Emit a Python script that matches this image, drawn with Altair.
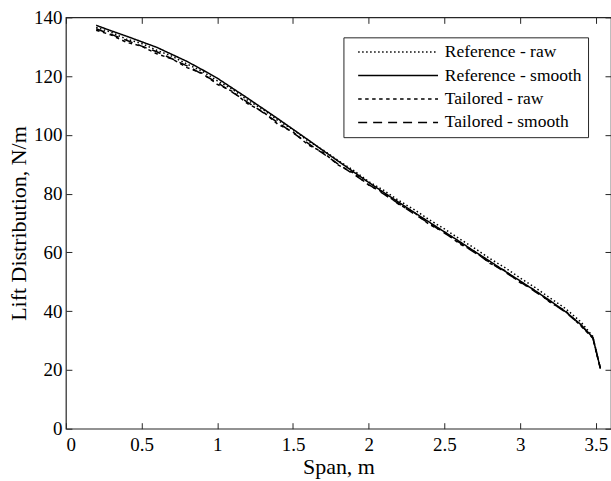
import altair as alt
import pandas as pd

span = [0.2, 0.3, 0.4, 0.5, 0.6, 0.7, 0.8, 0.9, 1.0, 1.1, 1.2, 1.3, 1.4, 1.5, 1.6, 1.7, 1.8,
        1.9, 2.0, 2.1, 2.2, 2.3, 2.4, 2.5, 2.6, 2.7, 2.8, 2.9, 3.0, 3.1, 3.2, 3.3, 3.4, 3.48, 3.53]

ref_smooth = [137.3, 135.4, 133.6, 131.7, 129.8, 127.4, 125.0, 122.2, 119.3, 115.9, 112.5, 109.0,
              105.5, 101.9, 98.3, 94.6, 91.0, 87.4, 83.8, 80.4, 77.0, 73.6, 70.3, 67.0, 63.7, 60.3,
              57.0, 53.6, 50.3, 46.9, 43.5, 39.8, 35.5, 31.0, 20.5]
ref_raw = [136.6, 134.9, 132.6, 131.1, 128.8, 126.8, 124.1, 121.7, 118.4, 115.5, 111.8, 108.7,
           104.9, 101.8, 97.9, 94.8, 91.2, 87.9, 84.1, 81.1, 77.6, 74.6, 71.1, 68.0, 64.6, 61.4,
           57.9, 54.8, 51.3, 48.0, 44.4, 40.9, 36.4, 31.4, 20.5]
tail_raw = [135.6, 134.0, 131.5, 130.2, 127.6, 125.9, 122.9, 121.0, 117.2, 114.8, 110.6, 108.0,
            103.6, 101.0, 96.6, 94.0, 89.7, 87.0, 82.9, 80.3, 76.3, 73.6, 69.5, 66.9, 62.9, 60.3,
            56.3, 53.8, 49.7, 47.1, 42.9, 40.1, 35.0, 30.8, 20.5]
tail_smooth = [136.1, 134.2, 132.2, 130.2, 128.3, 125.9, 123.5, 120.7, 117.8, 114.5, 111.1, 107.7,
               104.2, 100.7, 97.1, 93.6, 90.0, 86.6, 83.1, 79.8, 76.5, 73.1, 69.9, 66.6, 63.3, 59.9,
               56.6, 53.3, 50.0, 46.6, 43.2, 39.6, 35.3, 31.0, 20.5]

series_names = ["Reference - raw", "Reference - smooth", "Tailored - raw", "Tailored - smooth"]
series_values = [ref_raw, ref_smooth, tail_raw, tail_smooth]

x_ticks = [0, 0.5, 1, 1.5, 2, 2.5, 3, 3.5]
y_ticks = [0, 20, 40, 60, 80, 100, 120, 140]

rows = []
for name, vals in zip(series_names, series_values):
    for i, (xv, yv) in enumerate(zip(span, vals)):
        rows.append({"Span": xv, "Lift": yv, "Series": name, "order": i})
df = pd.DataFrame(rows)

FONT = "Liberation Serif"
TICK = 6

xscale = alt.Scale(domain=[0, 3.6], nice=False, zero=False)
yscale = alt.Scale(domain=[0, 140], nice=False)

base = alt.Chart(df)

lines = base.mark_line(color="black", strokeWidth=1.5).encode(
    x=alt.X("Span:Q", scale=xscale,
            axis=alt.Axis(values=x_ticks, format="~g", title="Span, m", offset=-TICK,
                          tickSize=TICK, labelPadding=7, domain=False, grid=False,
                          titlePadding=2)),
    y=alt.Y("Lift:Q", scale=yscale,
            axis=alt.Axis(values=y_ticks, title="Lift Distribution, N/m", offset=-TICK,
                          tickSize=TICK, labelPadding=4, domain=False, grid=False,
                          titlePadding=3)),
    strokeDash=alt.StrokeDash(
        "Series:N",
        scale=alt.Scale(domain=series_names,
                        range=[[1.5, 2.5], [1, 0], [3.5, 3.5], [9, 6]]),
        legend=alt.Legend(title=None, orient="none", legendX=278, legendY=20,
                          symbolType="M0,0H16", symbolSize=100, symbolStrokeWidth=1.6,
                          symbolStrokeColor="black",
                          strokeColor="#262626", fillColor="white", padding=6,
                          labelFont=FONT, labelFontSize=17.5, labelColor="black",
                          labelOffset=78, rowPadding=4.5)),
    order="order:Q",
)

frame_axes = base.mark_line(opacity=0).encode(
    x=alt.X("Span:Q", scale=xscale,
            axis=alt.Axis(orient="top", values=x_ticks, labels=False, title=None,
                          offset=-TICK, tickSize=TICK, domain=False, grid=False)),
    y=alt.Y("Lift:Q", scale=yscale,
            axis=alt.Axis(orient="right", values=y_ticks, labels=False, title=None,
                          offset=-TICK, tickSize=TICK, domain=False, grid=False)),
    detail="Series:N",
)

chart = alt.layer(lines, frame_axes).resolve_axis(x="independent", y="independent").properties(
    width=546, height=412,
    background="white",
    autosize=alt.AutoSizeParams(type="none"),
    padding={"left": 66, "top": 17, "right": 0, "bottom": 50},
).configure_view(stroke="#262626", strokeWidth=1.2).configure_axis(
    labelFont=FONT, labelFontSize=19, labelColor="black",
    titleFont=FONT, titleFontSize=22, titleFontWeight="normal", titleColor="black",
    tickColor="#262626", tickWidth=1,
)

chart.save("out.html", embed_options={"renderer": "svg", "actions": False})
